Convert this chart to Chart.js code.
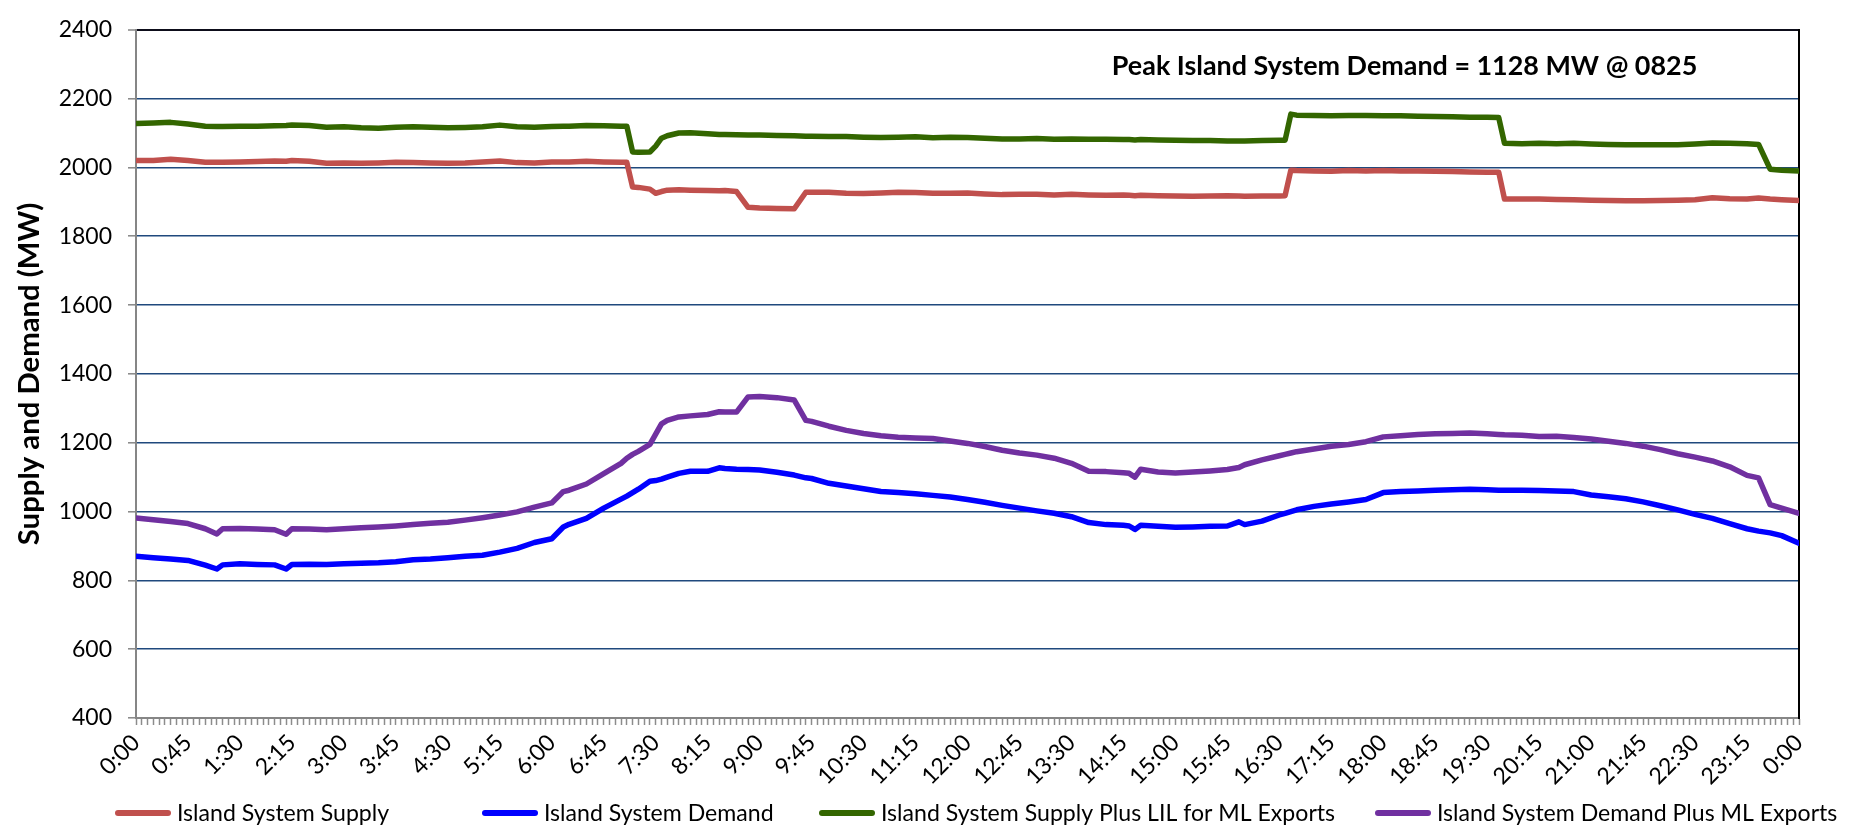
<!DOCTYPE html>
<html><head><meta charset="utf-8">
<script src="https://cdn.jsdelivr.net/npm/chart.js@4.4.0/dist/chart.umd.min.js"></script>
<style>html,body{margin:0;padding:0;background:#fff;}#wrap{width:1875px;height:828px;position:relative;}</style>
</head><body><div id="wrap"><canvas id="c" width="1875" height="828"></canvas></div>
<script>
// ---- data ----
const times = [
 "0:00","0:15","0:30","0:45","1:00","1:10","1:15","1:30","1:45","2:00",
 "2:10","2:15","2:30","2:45","3:00","3:15","3:30","3:45","4:00","4:15",
 "4:30","4:45","5:00","5:15","5:30","5:45","6:00","6:10","6:15","6:30",
 "6:45","7:00","7:05","7:10","7:15","7:25","7:30","7:35","7:40","7:50",
 "8:00","8:15","8:25","8:30","8:40","8:50","9:00","9:15","9:30","9:40",
 "9:45","10:00","10:15","10:30","10:45","11:00","11:15","11:30","11:45","12:00",
 "12:15","12:30","12:45","13:00","13:15","13:30","13:45","14:00","14:15","14:20",
 "14:25","14:30","14:45","15:00","15:15","15:30","15:45","15:55","16:00","16:15",
 "16:30","16:35","16:40","16:45","17:00","17:15","17:30","17:45","18:00","18:15",
 "18:30","18:45","19:00","19:15","19:30","19:40","19:45","20:00","20:15","20:30",
 "20:45","21:00","21:15","21:30","21:45","22:00","22:15","22:30","22:45","23:00",
 "23:15","23:25","23:35","23:45","24:00"
];
const islandSupply = [
 2020,2020,2024,2020,2015,2015,2015,2016,2017,2019,
 2018,2020,2018,2012,2013,2012,2013,2015,2014,2013,
 2012,2013,2016,2019,2014,2013,2016,2016,2016,2018,
 2016,2015,2015,1943,1942,1937,1925,1930,1934,1935,
 1934,1933,1932,1933,1930,1884,1882,1881,1880,1928,
 1928,1928,1925,1924,1926,1928,1927,1925,1925,1926,
 1923,1921,1922,1922,1920,1922,1920,1919,1920,1919,
 1918,1919,1918,1917,1916,1917,1918,1917,1916,1917,
 1917,1918,1992,1991,1990,1989,1991,1990,1991,1990,
 1990,1989,1988,1987,1986,1986,1908,1908,1908,1907,
 1906,1905,1904,1903,1903,1904,1905,1906,1912,1909,
 1908,1911,1908,1906,1904
];
const islandDemand = [
 870,866,862,858,844,833,845,848,846,845,
 833,846,847,846,848,850,851,854,860,862,
 866,870,873,882,893,910,921,955,963,980,
 1010,1036,1045,1055,1065,1088,1090,1094,1100,1111,
 1117,1117,1127,1125,1123,1122,1121,1114,1106,1098,
 1096,1082,1074,1066,1058,1055,1052,1047,1042,1035,
 1027,1018,1010,1002,995,985,968,962,960,958,
 948,960,957,954,955,957,958,970,962,972,
 990,995,1000,1005,1015,1022,1028,1035,1055,1058,
 1060,1062,1063,1065,1063,1062,1062,1062,1061,1060,
 1058,1048,1043,1037,1028,1017,1005,992,980,965,
 950,943,938,930,908
];
const supplyPlusLIL = [
 2128,2129,2131,2126,2120,2119,2119,2120,2120,2121,
 2122,2123,2122,2117,2118,2115,2114,2117,2118,2117,
 2115,2116,2118,2123,2118,2117,2119,2120,2120,2122,
 2121,2120,2120,2045,2044,2045,2062,2085,2092,2100,
 2101,2098,2096,2096,2095,2094,2094,2093,2092,2091,
 2091,2090,2090,2088,2087,2088,2089,2086,2088,2087,
 2085,2083,2083,2084,2082,2083,2082,2082,2081,2081,
 2080,2081,2080,2079,2078,2078,2077,2077,2077,2078,
 2079,2079,2155,2152,2151,2150,2151,2151,2150,2150,
 2149,2148,2147,2146,2146,2145,2070,2069,2070,2069,
 2070,2068,2067,2066,2066,2066,2066,2068,2071,2070,
 2069,2067,1995,1992,1990
];
const demandPlusML = [
 981,976,971,965,950,935,950,951,949,947,
 934,950,949,947,950,953,955,958,962,966,
 969,975,982,990,999,1013,1025,1058,1062,1080,
 1110,1140,1155,1166,1175,1195,1225,1255,1265,1275,
 1278,1282,1290,1289,1289,1333,1334,1331,1324,1265,
 1262,1248,1236,1227,1220,1216,1214,1212,1205,1198,
 1189,1178,1170,1164,1155,1140,1117,1116,1113,1111,
 1100,1123,1115,1112,1115,1118,1122,1128,1136,1150,
 1162,1166,1170,1174,1182,1190,1195,1203,1217,1220,
 1224,1226,1227,1228,1226,1224,1223,1222,1218,1219,
 1215,1211,1204,1198,1190,1180,1168,1158,1147,1130,
 1105,1098,1020,1010,995
];
const seriesNames = ["Island System Supply","Island System Demand","Island System Supply Plus LIL for ML Exports","Island System Demand Plus ML Exports"];
const seriesColors = ["#C0504D","#0000FF","#336600","#7030A0"];
const xTickLabels = ["0:00","0:45","1:30","2:15","3:00","3:45","4:30","5:15","6:00","6:45","7:30","8:15","9:00","9:45","10:30","11:15","12:00","12:45","13:30","14:15","15:00","15:45","16:30","17:15","18:00","18:45","19:30","20:15","21:00","21:45","22:30","23:15","0:00"];
const yTickValues = [400,600,800,1000,1200,1400,1600,1800,2000,2200,2400];
const yAxisTitle = "Supply and Demand (MW)";
const peakNote = "Peak Island System Demand = 1128 MW @ 0825";

// ---- styling helpers ----
const FONT = "Lato, 'Open Sans', 'DejaVu Sans', sans-serif";
Chart.defaults.font.family = FONT;
Chart.defaults.color = '#000';
const mctx = document.createElement('canvas').getContext('2d');
// choose a font size so that a text spans a target pixel width
const fitSize = (text, weight, target) => {
  mctx.font = `${weight} 100px ${FONT}`;
  return Math.round(100 * target / mctx.measureText(text).width * 10) / 10;
};
const titleSize = fitSize(yAxisTitle, 'bold', 343);
const noteSize = fitSize(peakNote, 'bold', 586);
const legendSize = Math.min(fitSize(seriesNames[2], 'normal', 455), fitSize(seriesNames[3], 'normal', 424));

const toMin = t => { const [h, m] = t.split(':').map(Number); return h * 60 + m; };
const toPts = arr => arr.map((v, i) => ({x: toMin(times[i]), y: v}));
const seriesData = [islandSupply, islandDemand, supplyPlusLIL, demandPlusML];

const notePos = {minute: 845, mw: 2293};
const notePlugin = {
  id: 'peakNote',
  afterDatasetsDraw(chart) {
    const {ctx, scales: {x, y}} = chart;
    ctx.save();
    ctx.font = `bold ${noteSize}px ${FONT}`;
    ctx.fillStyle = '#000';
    ctx.textAlign = 'left';
    ctx.textBaseline = 'middle';
    ctx.fillText(peakNote, x.getPixelForValue(notePos.minute), y.getPixelForValue(notePos.mw));
    ctx.restore();
  }
};
const legendLayout = {xs: [115, 482, 819, 1375], y: 813, sample: 56, gap: 6};
const legendPlugin = {
  id: 'lineLegend',
  afterDraw(chart) {
    const ctx = chart.ctx;
    ctx.save();
    ctx.font = `${legendSize}px ${FONT}`;
    ctx.textBaseline = 'middle';
    ctx.textAlign = 'left';
    chart.data.datasets.forEach((ds, i) => {
      const x0 = legendLayout.xs[i], yy = legendLayout.y;
      ctx.strokeStyle = ds.borderColor;
      ctx.lineWidth = 6;
      ctx.lineCap = 'round';
      ctx.beginPath();
      ctx.moveTo(x0 + 3, yy);
      ctx.lineTo(x0 + legendLayout.sample - 3, yy);
      ctx.stroke();
      ctx.fillStyle = '#000';
      ctx.fillText(ds.label, x0 + legendLayout.sample + legendLayout.gap, yy + 1);
    });
    ctx.restore();
  }
};

new Chart(document.getElementById('c'), {
  type: 'line',
  data: {
    datasets: seriesData.map((arr, i) => ({
      label: seriesNames[i],
      data: toPts(arr),
      borderColor: seriesColors[i],
      backgroundColor: seriesColors[i],
      borderWidth: 5.5,
      pointRadius: 0,
      tension: 0,
      borderJoinStyle: 'round',
      borderCapStyle: 'round',
      fill: false
    }))
  },
  options: {
    responsive: false,
    animation: false,
    layout: {padding: {top: 25, left: 0, right: 0, bottom: 0}},
    plugins: {legend: {display: false}, tooltip: {enabled: false}},
    scales: {
      x: {
        type: 'linear', min: 0, max: 1440,
        ticks: {
          stepSize: 5, autoSkip: false, maxRotation: 45, minRotation: 45,
          font: {size: 23}, color: '#000', padding: 4,
          callback: v => (v % 45 === 0 ? xTickLabels[v / 45] : '')
        },
        grid: {drawOnChartArea: false, drawTicks: true, tickLength: 7, tickColor: '#8c8c8c', tickWidth: 1.5},
        border: {color: '#868686', width: 2},
        afterFit: s => { s.height = 110; }
      },
      y: {
        min: 400, max: 2400,
        afterBuildTicks: s => { s.ticks = yTickValues.map(v => ({value: v})); },
        ticks: {font: {size: 23}, color: '#000', padding: 16, callback: v => String(v)},
        grid: {
          color: c => (c.tick && c.tick.value === 2400 ? '#0d0d1a' : '#1F497D'),
          lineWidth: c => (c.tick && c.tick.value === 2400 ? 2 : 1.6),
          tickLength: 8, tickColor: '#868686', tickWidth: 1.5
        },
        border: {color: '#868686', width: 2},
        title: {display: true, text: yAxisTitle, font: {size: titleSize, weight: 'bold'}, color: '#000', padding: {top: 12, bottom: 0}},
        afterFit: s => { s.width = 136; }
      },
      yRight: {
        position: 'right', display: true,
        ticks: {display: false}, grid: {display: false},
        border: {display: true, color: '#000', width: 2},
        afterFit: s => { s.width = 76; }
      }
    }
  },
  plugins: [notePlugin, legendPlugin]
});
</script>
</body></html>
